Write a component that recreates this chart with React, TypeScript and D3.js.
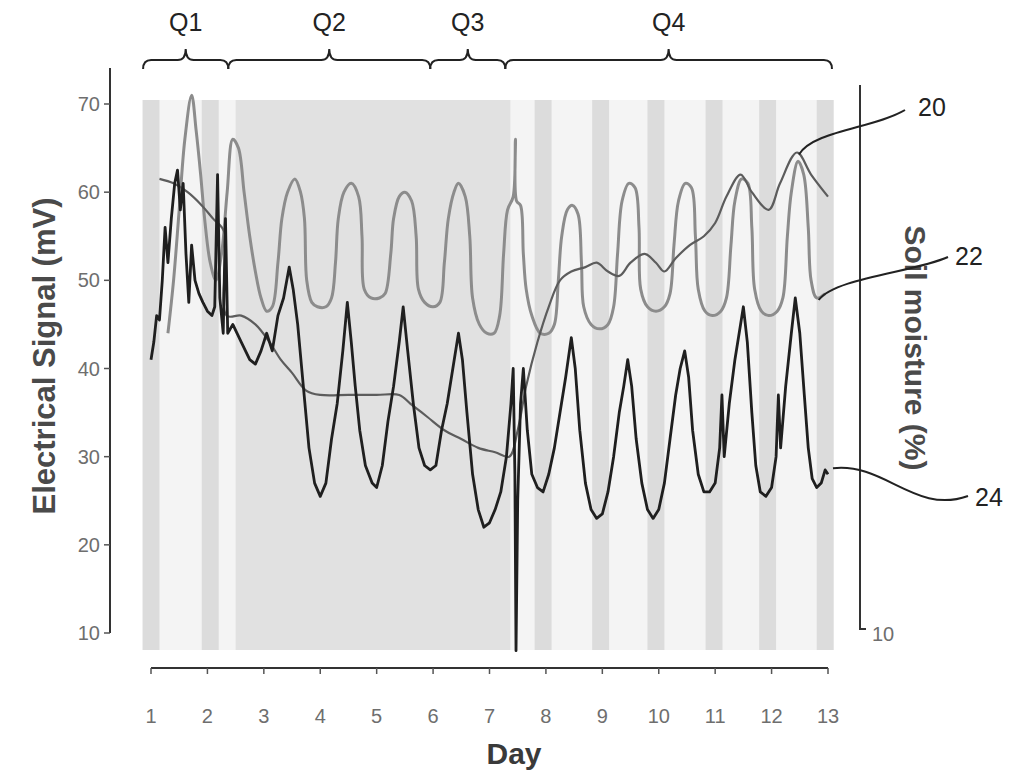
import React, { useRef, useEffect } from 'react';
import * as d3 from 'd3';

// x axis ticks (days) and left axis ticks (mV)
const dayTicks = [1, 2, 3, 4, 5, 6, 7, 8, 9, 10, 11, 12, 13];
const mvTicks = [10, 20, 30, 40, 50, 60, 70];

// treatment periods shown as braces on top
const quarterLabels = ['Q1', 'Q2', 'Q3', 'Q4'];
const quarterEdges = [0.86, 2.37, 5.95, 7.28, 13.07];

// night shading (day centres) and the long shaded block
const nightCentres = [1.0, 2.05, 7.95, 8.97, 9.95, 10.98, 11.93, 12.95];
const shadedBlock = [2.5, 7.37];

// line 20 (soil moisture, smooth)
const series20: [number, number][] = [
  [1.15, 61.5], [1.4, 61], [1.65, 60], [1.9, 58.5], [2.1, 57], [2.3, 55.5], [2.34, 46],
  [2.6, 46], [2.85, 45], [3.1, 43], [3.3, 41], [3.5, 39.5], [3.75, 37.5], [4.0, 37],
  [4.5, 37], [5.0, 37], [5.4, 37], [5.6, 36], [5.9, 34.5], [6.2, 33], [6.5, 32],
  [6.8, 31], [7.1, 30.5], [7.35, 30], [7.5, 33], [7.65, 38], [7.85, 43], [8.05, 47],
  [8.25, 50], [8.45, 51], [8.7, 51.5], [8.9, 52], [9.1, 51], [9.3, 50.5], [9.5, 52],
  [9.75, 53], [9.95, 52], [10.1, 51], [10.3, 52.5], [10.55, 54], [10.8, 55], [11.0, 56.5],
  [11.2, 59.5], [11.45, 62], [11.65, 60], [11.95, 58], [12.15, 61], [12.45, 64.5],
  [12.7, 62], [13.0, 59.5],
];

// line 22 (upper, square-ish daily wave)
const series22: [number, number][] = [
  [1.3, 44], [1.4, 50], [1.5, 58], [1.6, 66], [1.72, 71], [1.8, 67], [1.88, 62], [1.95, 57],
  [2.05, 52], [2.15, 50], [2.25, 53], [2.35, 60], [2.45, 66], [2.55, 65], [2.65, 60],
  [2.75, 55], [2.85, 51], [2.95, 48], [3.05, 46.5], [3.15, 47], [3.25, 52], [3.32, 57],
  [3.42, 60], [3.55, 61.5], [3.65, 60], [3.72, 57], [3.76, 50], [3.85, 47.5], [3.95, 47],
  [4.1, 47], [4.2, 48], [4.27, 52], [4.32, 57], [4.42, 60], [4.55, 61], [4.68, 59.5],
  [4.74, 55], [4.78, 49], [4.9, 48], [5.05, 48], [5.15, 48.5], [5.25, 53], [5.3, 57],
  [5.4, 59.5], [5.5, 60], [5.62, 59], [5.7, 55], [5.74, 49], [5.85, 47.5], [6.0, 47],
  [6.12, 47.5], [6.2, 52], [6.27, 57], [6.37, 60], [6.45, 61], [6.57, 59.5], [6.65, 55],
  [6.7, 48], [6.82, 45], [6.95, 44], [7.08, 44], [7.18, 46], [7.25, 53], [7.32, 58],
  [7.42, 59.5], [7.46, 66], [7.48, 59], [7.55, 58.5], [7.6, 53], [7.65, 49], [7.75, 46],
  [7.9, 44], [8.05, 44], [8.15, 45], [8.22, 50], [8.28, 55], [8.38, 58], [8.47, 58.5],
  [8.57, 57.5], [8.63, 52], [8.67, 47], [8.8, 45], [8.95, 44.5], [9.1, 45], [9.2, 47],
  [9.27, 53], [9.35, 59], [9.47, 61], [9.58, 60.5], [9.65, 56], [9.68, 49], [9.8, 47],
  [9.95, 46.5], [10.1, 47], [10.2, 48.5], [10.27, 54], [10.35, 59], [10.47, 61],
  [10.58, 60.5], [10.65, 55], [10.7, 49], [10.82, 46.5], [10.95, 46], [11.1, 46.5],
  [11.2, 48], [11.28, 54], [11.35, 59], [11.47, 61.5], [11.58, 61], [11.65, 56], [11.7, 49],
  [11.82, 46.5], [11.95, 46], [12.1, 46.5], [12.2, 48], [12.28, 55], [12.35, 60],
  [12.47, 63.5], [12.57, 62], [12.65, 56], [12.7, 50], [12.8, 48], [12.95, 48.5],
];

// line 24 (electrical signal, dark)
const series24: [number, number][] = [
  [1.0, 41], [1.05, 43], [1.1, 46], [1.15, 45.5], [1.2, 50], [1.25, 56], [1.3, 52],
  [1.36, 57], [1.42, 61], [1.47, 62.5], [1.52, 58], [1.57, 61], [1.62, 53], [1.67, 47.5],
  [1.72, 54], [1.78, 50], [1.85, 48.5], [1.92, 47.5], [2.0, 46.5], [2.08, 46], [2.13, 47],
  [2.18, 62], [2.22, 48], [2.28, 44], [2.32, 57], [2.36, 44], [2.45, 45], [2.6, 43],
  [2.75, 41], [2.85, 40.5], [2.95, 42], [3.05, 44], [3.15, 42], [3.25, 46], [3.35, 48],
  [3.45, 51.5], [3.52, 49], [3.6, 45], [3.7, 38], [3.8, 31], [3.9, 27], [4.0, 25.5],
  [4.1, 27], [4.2, 32], [4.3, 36], [4.4, 42], [4.48, 47.5], [4.55, 43], [4.62, 38],
  [4.7, 33], [4.8, 29], [4.92, 27], [5.0, 26.5], [5.1, 29], [5.2, 34], [5.3, 38],
  [5.4, 43], [5.47, 47], [5.55, 42], [5.65, 36], [5.75, 31], [5.85, 29], [5.95, 28.5],
  [6.05, 29], [6.15, 33], [6.25, 36], [6.35, 40], [6.45, 44], [6.52, 41], [6.6, 35],
  [6.7, 28], [6.8, 24], [6.9, 22], [7.0, 22.5], [7.1, 24], [7.2, 26], [7.3, 30],
  [7.38, 36], [7.42, 40], [7.45, 28], [7.47, 8], [7.5, 25], [7.55, 36], [7.6, 40],
  [7.67, 33], [7.75, 28], [7.85, 26.5], [7.95, 26], [8.05, 28], [8.15, 31], [8.25, 35],
  [8.35, 39], [8.45, 43.5], [8.52, 40], [8.6, 33], [8.7, 27], [8.8, 24], [8.9, 23],
  [9.0, 23.5], [9.1, 26], [9.2, 30], [9.3, 35], [9.38, 38], [9.45, 41], [9.52, 38],
  [9.6, 32], [9.7, 27], [9.8, 24], [9.9, 23], [10.0, 24], [10.1, 27], [10.2, 32],
  [10.3, 37], [10.38, 40], [10.46, 42], [10.53, 39], [10.6, 33], [10.7, 28], [10.8, 26],
  [10.9, 26], [11.0, 27], [11.08, 31], [11.12, 37], [11.16, 30], [11.25, 36], [11.35, 41],
  [11.45, 45], [11.5, 47], [11.57, 43], [11.65, 35], [11.72, 29], [11.8, 26], [11.9, 25.5],
  [12.0, 26.5], [12.08, 30], [12.12, 37], [12.16, 31], [12.25, 38], [12.35, 44],
  [12.42, 48], [12.5, 44], [12.58, 37], [12.65, 31], [12.72, 27.5], [12.8, 26.5],
  [12.88, 27], [12.95, 28.5], [13.0, 28],
];

const calloutLabels = ['20', '22', '24'];

const FONT = '"Liberation Sans", Arial, Helvetica, sans-serif';

const Chart = () => {
  const ref = useRef<SVGSVGElement>(null);

  useEffect(() => {
    const svg = d3.select(ref.current);
    svg.selectAll('*').remove();

    const x = d3.scaleLinear().domain([1, 13]).range([151, 828]);
    const y = d3.scaleLinear().domain([10, 70]).range([633, 104]);
    const shadeTop = 100;
    const shadeBottom = 650;

    // shading
    svg.append('rect')
      .attr('x', x(0.88)).attr('y', shadeTop)
      .attr('width', x(13.1) - x(0.88)).attr('height', shadeBottom - shadeTop)
      .attr('fill', '#f4f4f4');
    svg.append('rect')
      .attr('x', x(shadedBlock[0])).attr('y', shadeTop)
      .attr('width', x(shadedBlock[1]) - x(shadedBlock[0])).attr('height', shadeBottom - shadeTop)
      .attr('fill', '#e1e1e1');
    svg.selectAll('rect.night')
      .data(nightCentres)
      .enter()
      .append('rect')
      .attr('class', 'night')
      .attr('x', (d) => x(d - 0.15))
      .attr('y', shadeTop)
      .attr('width', x(1.3) - x(1))
      .attr('height', shadeBottom - shadeTop)
      .attr('fill', '#dcdcdc');

    // lines
    const smooth = d3.line<[number, number]>()
      .x((d) => x(d[0])).y((d) => y(d[1]))
      .curve(d3.curveCatmullRom.alpha(0.5));
    const sharp = d3.line<[number, number]>()
      .x((d) => x(d[0])).y((d) => y(d[1]));

    svg.append('path').attr('d', smooth(series22))
      .attr('fill', 'none').attr('stroke', '#8c8c8c').attr('stroke-width', 3)
      .attr('stroke-linejoin', 'round');
    svg.append('path').attr('d', smooth(series20))
      .attr('fill', 'none').attr('stroke', '#5c5c5c').attr('stroke-width', 2.2)
      .attr('stroke-linejoin', 'round');
    svg.append('path').attr('d', sharp(series24))
      .attr('fill', 'none').attr('stroke', '#1f1f1f').attr('stroke-width', 2.8)
      .attr('stroke-linejoin', 'round');

    // left axis
    const left = 110;
    svg.append('line').attr('x1', left).attr('x2', left).attr('y1', 68).attr('y2', y(10))
      .attr('stroke', '#333').attr('stroke-width', 2);
    const yt = svg.append('g');
    yt.selectAll('line').data(mvTicks).enter().append('line')
      .attr('x1', left - 6).attr('x2', left).attr('y1', (d) => y(d)).attr('y2', (d) => y(d))
      .attr('stroke', '#555').attr('stroke-width', 1.5);
    yt.selectAll('text').data(mvTicks).enter().append('text')
      .attr('x', left - 10).attr('y', (d) => y(d) + 7)
      .attr('text-anchor', 'end')
      .attr('font-family', FONT).attr('font-size', 20).attr('fill', '#6e6e6e')
      .text((d) => d);
    svg.append('text')
      .attr('transform', `translate(44, 356) rotate(-90)`)
      .attr('text-anchor', 'middle').attr('dominant-baseline', 'central')
      .attr('font-family', FONT).attr('font-size', 31).attr('font-weight', 'bold')
      .attr('fill', '#4a4a4a')
      .text('Electrical Signal (mV)');

    // right axis
    const right = 860;
    svg.append('path')
      .attr('d', `M${right},85 L${right},${y(10) - 4} L${right + 6},${y(10) - 4}`)
      .attr('fill', 'none').attr('stroke', '#333').attr('stroke-width', 2);
    svg.append('text')
      .attr('x', right + 12).attr('y', y(10) + 8)
      .attr('font-family', FONT).attr('font-size', 20).attr('fill', '#6e6e6e')
      .text('10');
    svg.append('text')
      .attr('transform', `translate(915, 348) rotate(90)`)
      .attr('text-anchor', 'middle').attr('dominant-baseline', 'central')
      .attr('font-family', FONT).attr('font-size', 30).attr('font-weight', 'bold')
      .attr('fill', '#4a4a4a')
      .text('Soil moisture (%)');

    // bottom axis
    const axisY = 668;
    svg.append('line').attr('x1', x(1)).attr('x2', x(13)).attr('y1', axisY).attr('y2', axisY)
      .attr('stroke', '#333').attr('stroke-width', 2);
    const xt = svg.append('g');
    xt.selectAll('line').data(dayTicks).enter().append('line')
      .attr('x1', (d) => x(d)).attr('x2', (d) => x(d)).attr('y1', axisY).attr('y2', axisY + 6)
      .attr('stroke', '#555').attr('stroke-width', 1.5);
    xt.selectAll('text').data(dayTicks).enter().append('text')
      .attr('x', (d) => x(d)).attr('y', axisY + 55)
      .attr('text-anchor', 'middle')
      .attr('font-family', FONT).attr('font-size', 20).attr('fill', '#6e6e6e')
      .text((d) => d);
    svg.append('text')
      .attr('x', 514).attr('y', 764)
      .attr('text-anchor', 'middle')
      .attr('font-family', FONT).attr('font-size', 30).attr('font-weight', 'bold')
      .attr('fill', '#3a3a3a')
      .text('Day');

    // braces for quarters
    const braceY = 60;
    quarterLabels.forEach((q, i) => {
      const x1 = x(quarterEdges[i]);
      const x2 = x(quarterEdges[i + 1]);
      const m = (x1 + x2) / 2;
      const r = Math.min(8, (x2 - x1) / 6);
      const d = `M${x1},${braceY + 9} Q${x1},${braceY} ${x1 + r},${braceY} L${m - r},${braceY}`
        + ` Q${m},${braceY} ${m},${braceY - 11} Q${m},${braceY} ${m + r},${braceY}`
        + ` L${x2 - r},${braceY} Q${x2},${braceY} ${x2},${braceY + 9}`;
      svg.append('path').attr('d', d).attr('fill', 'none')
        .attr('stroke', '#222').attr('stroke-width', 2);
      svg.append('text')
        .attr('x', m).attr('y', 31)
        .attr('text-anchor', 'middle')
        .attr('font-family', FONT).attr('font-size', 25).attr('fill', '#222')
        .text(q);
    });

    // callouts
    const peak20 = series20.reduce((a, b) => (b[1] > a[1] ? b : a));
    const end22 = series22[series22.length - 2];
    const end24 = series24[series24.length - 1];
    const starts = [
      [x(peak20[0]) + 2, y(peak20[1]) + 2],
      [x(end22[0]) + 2, y(end22[1]) + 2],
      [x(end24[0]) + 5, y(end24[1]) - 6],
    ];
    const leaders = [
      (s: number[]) => `M${s[0]},${s[1]} C${s[0] + 14},${s[1] - 24} ${875},${128} ${905},${110}`,
      (s: number[]) => `M${s[0]},${s[1]} C${s[0] + 16},${s[1] - 22} ${915},${272} ${948},${257}`,
      (s: number[]) => `M${s[0]},${s[1]} C${885},${s[1] - 6} ${915},${515} ${968},${496}`,
    ];
    const textPos = [[918, 116], [955, 265], [975, 506]];
    calloutLabels.forEach((lab, i) => {
      svg.append('path').attr('d', leaders[i](starts[i]))
        .attr('fill', 'none').attr('stroke', '#222').attr('stroke-width', 2);
      svg.append('text')
        .attr('x', textPos[i][0]).attr('y', textPos[i][1])
        .attr('font-family', FONT).attr('font-size', 25).attr('fill', '#222')
        .text(lab);
    });
  }, []);

  return (
    <svg
      ref={ref}
      width={1021}
      height={776}
      style={{ position: 'absolute', left: 0, top: 0, background: '#fff' }}
    />
  );
};

export default function App() {
  return <Chart />;
}
